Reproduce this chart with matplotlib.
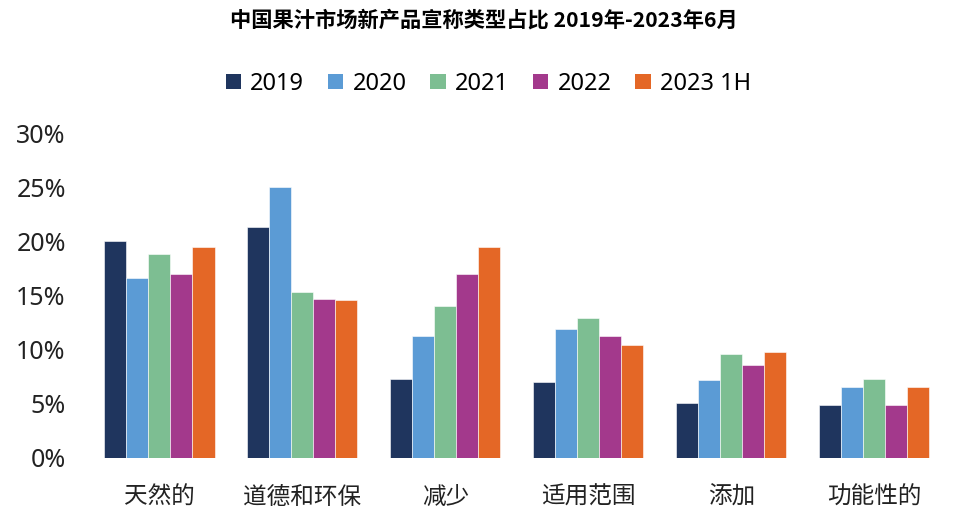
import numpy as np
import matplotlib.pyplot as plt
from matplotlib.patches import Patch

plt.rcParams['font.family'] = ['Noto Sans', 'Noto Sans CJK SC', 'DejaVu Sans']

## Data
categories = ['天然的', '道德和环保', '减少', '适用范围', '添加', '功能性的']
series = ['2019', '2020', '2021', '2022', '2023 1H']
v2019 = [20.0, 21.3, 7.3, 7.0, 5.1, 4.9]
v2020 = [16.6, 25.0, 11.3, 11.9, 7.2, 6.55]
v2021 = [18.8, 15.35, 14.0, 12.9, 9.6, 7.3]
v2022 = [17.0, 14.65, 17.0, 11.3, 8.6, 4.9]
v2023 = [19.45, 14.55, 19.45, 10.45, 9.75, 6.55]
values = [v2019, v2020, v2021, v2022, v2023]
colors = ['#1F355E', '#5B9BD5', '#7DBE92', '#A3398C', '#E46726']

title = '中国果汁市场新产品宣称类型占比 2019年-2023年6月'

## Figure
fig = plt.figure(figsize=(9.67, 5.3), dpi=100)
ax = fig.add_axes([0.091, 0.136, 0.887, 0.613])

x = np.arange(len(categories))
bw = 0.154
for i, (vals, c) in enumerate(zip(values, colors)):
    ax.bar(x + (i - 2) * bw, vals, width=bw, color=c, edgecolor='white', linewidth=0.4)

ax.set_xlim(-0.5, len(categories) - 0.5)
ax.set_ylim(0, 30)
ax.set_yticks(np.arange(0, 31, 5))
ax.set_yticklabels([f'{t}%' for t in range(0, 31, 5)], fontsize=18, color='#222222')
ax.set_xticks(x)
ax.set_xticklabels(categories, fontsize=17, color='#222222')
ax.tick_params(axis='both', length=0)
ax.tick_params(axis='y', pad=16)
ax.tick_params(axis='x', pad=20)
for s in ax.spines.values():
    s.set_visible(False)

fig.text(0.5, 0.962, title, ha='center', va='center', fontsize=15.3, fontweight='bold',
         family=['Noto Sans CJK SC', 'DejaVu Sans'])

handles = [Patch(facecolor=c, edgecolor='none') for c in colors]
fig.legend(handles, series, loc='center', bbox_to_anchor=(0.505, 0.842), ncol=5,
           frameon=False, fontsize=17, handlelength=0.65, handleheight=0.65,
           handletextpad=0.4, columnspacing=1.0)

fig.savefig('out.png', dpi=100)
